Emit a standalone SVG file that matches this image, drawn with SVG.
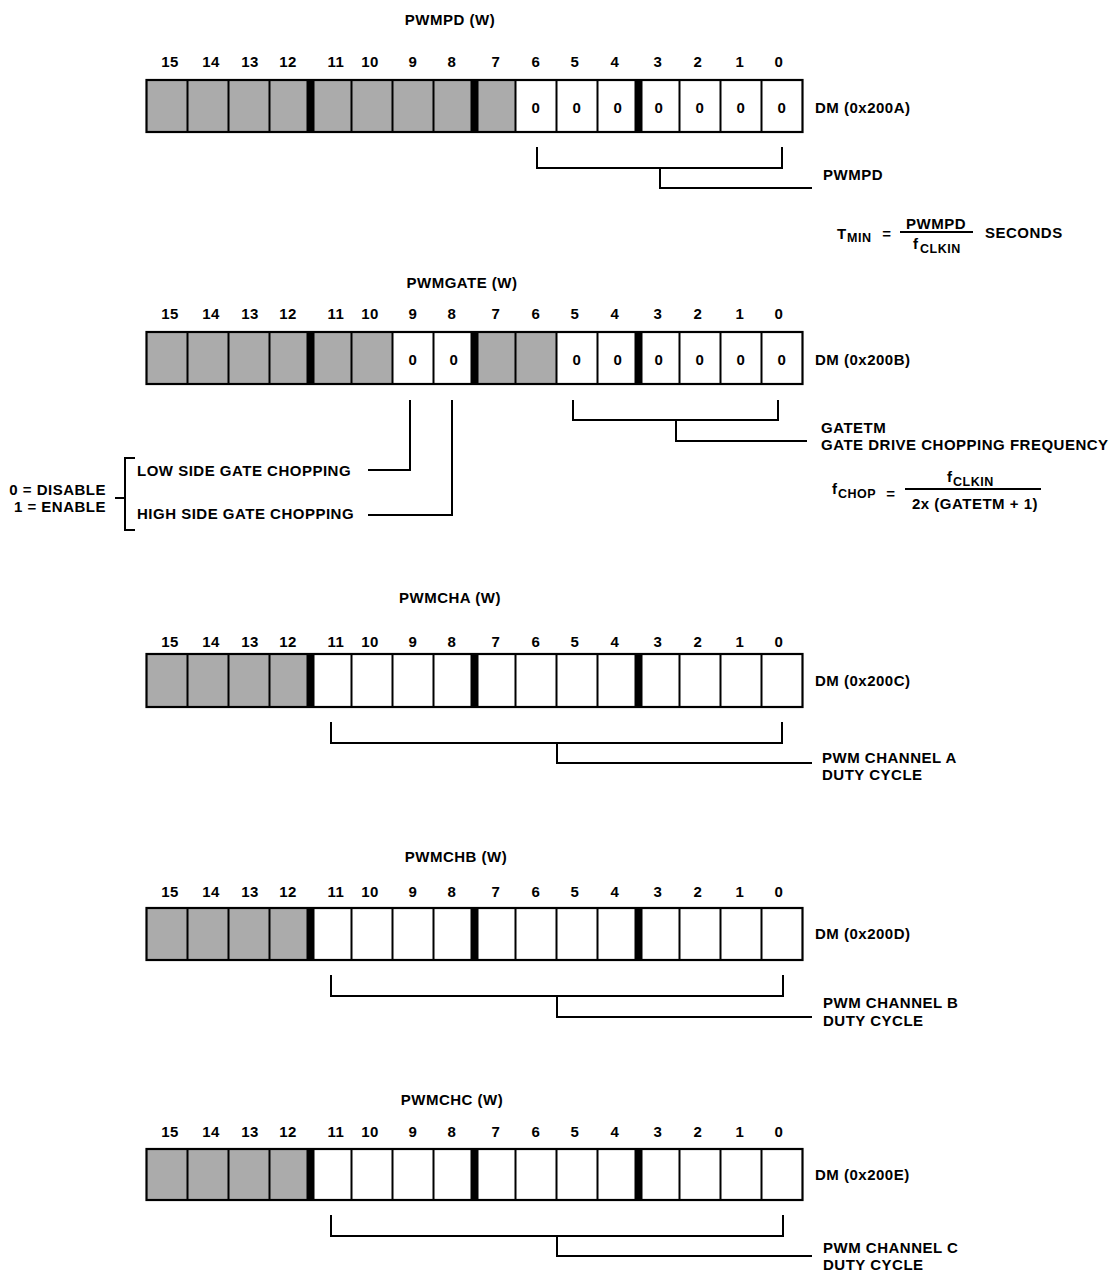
<svg xmlns="http://www.w3.org/2000/svg" xmlns:xlink="http://www.w3.org/1999/xlink" width="1115" height="1272" viewBox="0 0 1115 1272">
<style>
.t{font-family:"Liberation Sans",Arial,Helvetica,sans-serif;font-weight:bold;font-size:15px;letter-spacing:0.5px;fill:#000}
.s{font-size:12.5px}
.m{text-anchor:middle}
.e{text-anchor:end}
.frame{fill:#fff;stroke:none}
.gray{fill:#ababab;stroke:none}
.outline{fill:none;stroke:#000;stroke-width:2.2}
.div{fill:none;stroke:#000;stroke-width:2}
.bar{fill:#000}
.ln{fill:none;stroke:#000;stroke-width:2}
</style>
<defs>
<g id="bitnums" class="t m">
<text x="170">15</text><text x="211">14</text><text x="250">13</text><text x="288">12</text>
<text x="336">11</text><text x="370">10</text><text x="413">9</text><text x="452">8</text>
<text x="496">7</text><text x="536">6</text><text x="575">5</text><text x="615">4</text>
<text x="658">3</text><text x="698">2</text><text x="740">1</text><text x="779">0</text>
</g>
<path id="dividers" class="div" d="M187.5 0V52M228.5 0V52M269.5 0V52M351.5 0V52M392.5 0V52M433.5 0V52M515.5 0V52M556.5 0V52M597.5 0V52M679.5 0V52M720.5 0V52M761.5 0V52"/>
<g id="bars" class="bar">
<rect x="306.5" y="0" width="8" height="52"/>
<rect x="470.5" y="0" width="8" height="52"/>
<rect x="634.5" y="0" width="8" height="52"/>
</g>
</defs>
<rect width="1115" height="1272" fill="#fff"/>

<g id="pwmpd">
<text class="t m" x="450" y="25">PWMPD (W)</text>
<use xlink:href="#bitnums" href="#bitnums" y="67"/>
<g transform="translate(0,80)">
<rect class="frame" x="146.5" y="0" width="656" height="52"/>
<rect class="gray" x="146.5" y="0" width="369" height="52"/>
<use xlink:href="#dividers" href="#dividers"/>
<use xlink:href="#bars" href="#bars"/>
<rect class="outline" x="146.5" y="0" width="656" height="52"/>
<g class="t m">
<text x="536" y="33">0</text><text x="577" y="33">0</text><text x="618" y="33">0</text>
<text x="659" y="33">0</text><text x="700" y="33">0</text><text x="741" y="33">0</text><text x="782" y="33">0</text>
</g>
</g>
<text class="t" x="815" y="113">DM (0x200A)</text>
<text class="t" x="823" y="180">PWMPD</text>
</g>

<g id="formula-tmin">
<text class="t" x="837" y="239">T</text>
<text class="t s" x="847" y="242">MIN</text>
<text class="t m" x="887" y="239">=</text>
<text class="t m" x="936" y="229">PWMPD</text>
<line class="ln" x1="900" y1="232" x2="973" y2="232" stroke-width="1.5"/>
<text class="t" x="913" y="249">f</text>
<text class="t s" x="920" y="253">CLKIN</text>
<text class="t" x="985" y="238">SECONDS</text>
</g>

<g id="pwmgate">
<text class="t m" x="462" y="288">PWMGATE (W)</text>
<use xlink:href="#bitnums" href="#bitnums" y="319"/>
<g transform="translate(0,332)">
<rect class="frame" x="146.5" y="0" width="656" height="52"/>
<rect class="gray" x="146.5" y="0" width="246" height="52"/>
<rect class="gray" x="474.5" y="0" width="82" height="52"/>
<use xlink:href="#dividers" href="#dividers"/>
<use xlink:href="#bars" href="#bars"/>
<rect class="outline" x="146.5" y="0" width="656" height="52"/>
<g class="t m">
<text x="413" y="33">0</text><text x="454" y="33">0</text>
<text x="577" y="33">0</text><text x="618" y="33">0</text>
<text x="659" y="33">0</text><text x="700" y="33">0</text><text x="741" y="33">0</text><text x="782" y="33">0</text>
</g>
</g>
<text class="t" x="815" y="365">DM (0x200B)</text>
<text class="t" x="821" y="433">GATETM</text>
<text class="t" x="821" y="450">GATE DRIVE CHOPPING FREQUENCY</text>
<text class="t" x="137" y="476">LOW SIDE GATE CHOPPING</text>
<text class="t" x="137" y="519">HIGH SIDE GATE CHOPPING</text>
<text class="t e" x="106" y="495">0 = DISABLE</text>
<text class="t e" x="106" y="512">1 = ENABLE</text>
</g>

<g id="formula-fchop">
<text class="t" x="832" y="494">f</text>
<text class="t s" x="838" y="498">CHOP</text>
<text class="t m" x="891" y="499">=</text>
<text class="t" x="947" y="482">f</text>
<text class="t s" x="953" y="486">CLKIN</text>
<line class="ln" x1="905" y1="489" x2="1041" y2="489" stroke-width="1.5"/>
<text class="t m" x="975" y="509">2x (GATETM + 1)</text>
</g>

<g id="pwmcha">
<text class="t m" x="450" y="603">PWMCHA (W)</text>
<use xlink:href="#bitnums" href="#bitnums" y="647"/>
<g transform="translate(0,654)">
<rect class="frame" x="146.5" y="0" width="656" height="53"/>
<rect class="gray" x="146.5" y="0" width="164" height="53"/>
<use xlink:href="#dividers" href="#dividers" transform="scale(1,1.02)"/>
<use xlink:href="#bars" href="#bars" transform="scale(1,1.02)"/>
<rect class="outline" x="146.5" y="0" width="656" height="53"/>
</g>
<text class="t" x="815" y="686">DM (0x200C)</text>
<text class="t" x="822" y="763">PWM CHANNEL A</text>
<text class="t" x="822" y="780">DUTY CYCLE</text>
</g>

<g id="pwmchb">
<text class="t m" x="456" y="862">PWMCHB (W)</text>
<use xlink:href="#bitnums" href="#bitnums" y="897"/>
<g transform="translate(0,908)">
<rect class="frame" x="146.5" y="0" width="656" height="52"/>
<rect class="gray" x="146.5" y="0" width="164" height="52"/>
<use xlink:href="#dividers" href="#dividers"/>
<use xlink:href="#bars" href="#bars"/>
<rect class="outline" x="146.5" y="0" width="656" height="52"/>
</g>
<text class="t" x="815" y="939">DM (0x200D)</text>
<text class="t" x="823" y="1008">PWM CHANNEL B</text>
<text class="t" x="823" y="1026">DUTY CYCLE</text>
</g>

<g id="pwmchc">
<text class="t m" x="452" y="1105">PWMCHC (W)</text>
<use xlink:href="#bitnums" href="#bitnums" y="1137"/>
<g transform="translate(0,1149)">
<rect class="frame" x="146.5" y="0" width="656" height="51"/>
<rect class="gray" x="146.5" y="0" width="164" height="51"/>
<use xlink:href="#dividers" href="#dividers"/>
<use xlink:href="#bars" href="#bars"/>
<rect class="outline" x="146.5" y="0" width="656" height="51"/>
</g>
<text class="t" x="815" y="1180">DM (0x200E)</text>
<text class="t" x="823" y="1253">PWM CHANNEL C</text>
<text class="t" x="823" y="1270">DUTY CYCLE</text>
</g>

<g id="connectors" class="ln">
<path d="M537 147V168H782V147M660 168V188H812"/>
<path d="M573 400V420H778V400M676 420V441H807"/>
<path d="M410 400V470H368M452 400V515H368"/>
<path d="M135 458H125V530H135M115 498H125"/>
<path d="M331 722V743H782V722M557 743V763H812"/>
<path d="M331 975V996H783V975M557 996V1017H812"/>
<path d="M331 1215V1236H783V1215M557 1236V1256H812"/>
</g>
</svg>
